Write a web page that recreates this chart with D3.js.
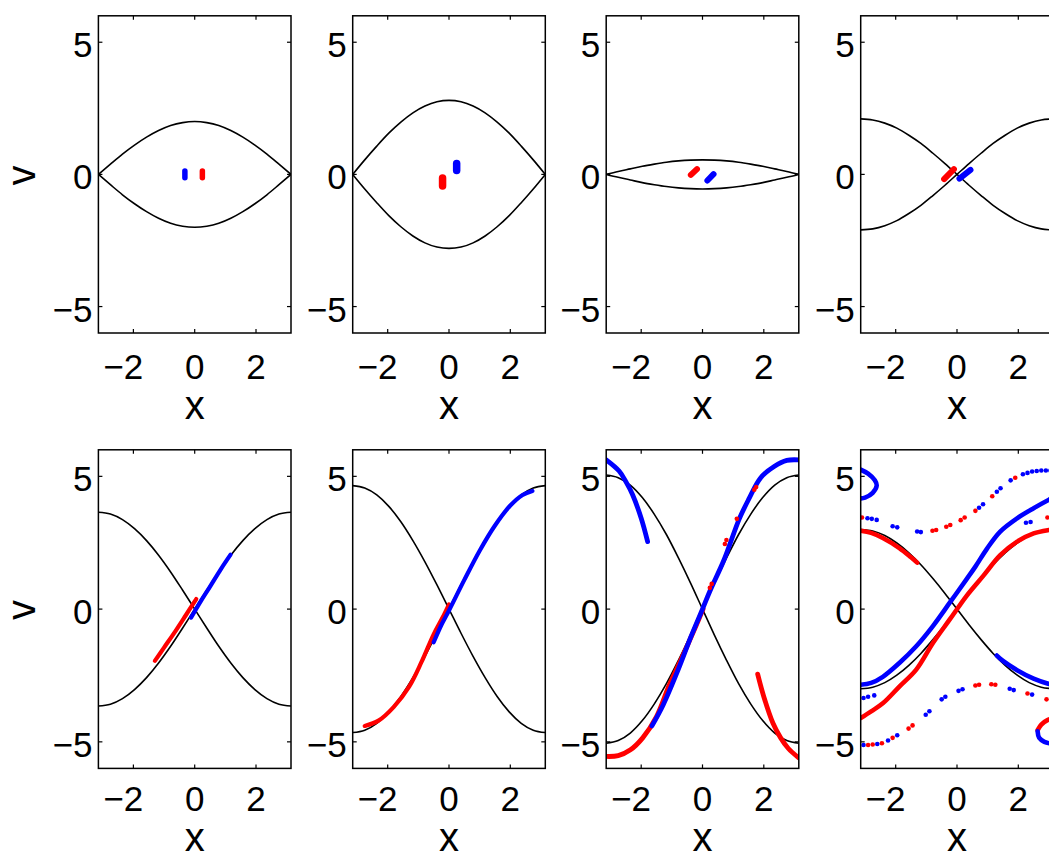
<!DOCTYPE html>
<html>
<head>
<meta charset="utf-8">
<script src="https://cdn.jsdelivr.net/npm/d3@7"></script>
<style>
  html, body { margin: 0; padding: 0; background: #fff; overflow: hidden; }
  svg { display: block; }
  text { font-family: "Liberation Sans", Arial, Helvetica, sans-serif; fill: #000; }
</style>
</head>
<body>
<svg id="fig" width="1049" height="859"></svg>
<script>
// ---- axis ticks ----
const xTicks = [-2, 0, 2];
const vTicks = [-5, 0, 5];

// ---- separatrix samples (x positions shared by all panels) ----
const xGrid = [-3.1416, -2.7489, -2.3562, -1.9635, -1.5708, -1.1781, -0.7854, -0.3927, 0,
               0.3927, 0.7854, 1.1781, 1.5708, 1.9635, 2.3562, 2.7489, 3.1416];

// upper branch (panels 1-3) or rising branch (panels 4-8)
const sepA = [
  [0, 0.39, 0.77, 1.11, 1.41, 1.66, 1.85, 1.96, 2.00, 1.96, 1.85, 1.66, 1.41, 1.11, 0.77, 0.39, 0],
  [0, 0.55, 1.07, 1.56, 1.98, 2.33, 2.59, 2.75, 2.80, 2.75, 2.59, 2.33, 1.98, 1.56, 1.07, 0.55, 0],
  [0, 0.11, 0.21, 0.31, 0.39, 0.46, 0.51, 0.54, 0.55, 0.54, 0.51, 0.46, 0.39, 0.31, 0.21, 0.11, 0],
  [-2.10, -2.06, -1.94, -1.75, -1.48, -1.17, -0.80, -0.41, 0, 0.41, 0.80, 1.17, 1.48, 1.75, 1.94, 2.06, 2.10],
  [-3.65, -3.58, -3.37, -3.03, -2.58, -2.03, -1.40, -0.71, 0, 0.71, 1.40, 2.03, 2.58, 3.03, 3.37, 3.58, 3.65],
  [-4.65, -4.56, -4.30, -3.87, -3.29, -2.58, -1.78, -0.91, 0, 0.91, 1.78, 2.58, 3.29, 3.87, 4.30, 4.56, 4.65],
  [-5.05, -4.95, -4.67, -4.20, -3.57, -2.81, -1.93, -0.99, 0, 0.99, 1.93, 2.81, 3.57, 4.20, 4.67, 4.95, 5.05],
  [-3.00, -2.94, -2.77, -2.49, -2.12, -1.67, -1.15, -0.59, 0, 0.59, 1.15, 1.67, 2.12, 2.49, 2.77, 2.94, 3.00]
];
// lower branch (panels 1-3) or falling branch (panels 4-8)
const sepB = [
  [0, -0.39, -0.77, -1.11, -1.41, -1.66, -1.85, -1.96, -2.00, -1.96, -1.85, -1.66, -1.41, -1.11, -0.77, -0.39, 0],
  [0, -0.55, -1.07, -1.56, -1.98, -2.33, -2.59, -2.75, -2.80, -2.75, -2.59, -2.33, -1.98, -1.56, -1.07, -0.55, 0],
  [0, -0.11, -0.21, -0.31, -0.39, -0.46, -0.51, -0.54, -0.55, -0.54, -0.51, -0.46, -0.39, -0.31, -0.21, -0.11, 0],
  [2.10, 2.06, 1.94, 1.75, 1.48, 1.17, 0.80, 0.41, 0, -0.41, -0.80, -1.17, -1.48, -1.75, -1.94, -2.06, -2.10],
  [3.65, 3.58, 3.37, 3.03, 2.58, 2.03, 1.40, 0.71, 0, -0.71, -1.40, -2.03, -2.58, -3.03, -3.37, -3.58, -3.65],
  [4.65, 4.56, 4.30, 3.87, 3.29, 2.58, 1.78, 0.91, 0, -0.91, -1.78, -2.58, -3.29, -3.87, -4.30, -4.56, -4.65],
  [5.05, 4.95, 4.67, 4.20, 3.57, 2.81, 1.93, 0.99, 0, -0.99, -1.93, -2.81, -3.57, -4.20, -4.67, -4.95, -5.05],
  [3.00, 2.94, 2.77, 2.49, 2.12, 1.67, 1.15, 0.59, 0, -0.59, -1.15, -1.67, -2.12, -2.49, -2.77, -2.94, -3.00]
];

// ---- particle ensembles: dense strands [x, v] per panel ----
const redStrands = [
  [[[0.25, -0.13], [0.25, 0.13]]],
  [[[-0.21, -0.44], [-0.21, -0.14]]],
  [[[-0.38, -0.02], [-0.18, 0.20]]],
  [[[-0.42, -0.18], [-0.10, 0.20]]],
  [[[-1.30, -1.95], [-1.00, -1.45], [-0.60, -0.78], [-0.30, -0.25], [0.05, 0.38]]],
  [[[-2.75, -4.40], [-2.30, -4.20], [-1.80, -3.68], [-1.30, -2.92], [-0.90, -2.00], [-0.50, -0.95], [-0.20, -0.30], [0.00, 0.18]]],
  [
    [[-3.14, -5.55], [-2.75, -5.52], [-2.35, -5.30], [-1.95, -4.85], [-1.50, -4.05], [-1.08, -2.85], [-0.64, -1.75], [-0.20, -0.60], [0.02, 0.00]],
    [[1.80, -2.45], [2.00, -3.30], [2.30, -4.30], [2.55, -4.85], [2.80, -5.25], [3.14, -5.60]]
  ],
  [
    [[-3.14, -4.10], [-2.80, -3.85], [-2.42, -3.55], [-1.88, -2.92], [-1.33, -2.28], [-0.78, -1.27], [-0.23, -0.38], [0.32, 0.51], [0.87, 1.27], [1.41, 2.03], [1.96, 2.54], [2.50, 2.85], [3.00, 2.98], [3.14, 3.00]],
    [[-3.14, 2.95], [-2.80, 2.87], [-2.42, 2.68], [-1.88, 2.30], [-1.50, 1.95], [-1.30, 1.75]],
    [[3.14, -4.12], [2.95, -4.18], [2.75, -4.35], [2.63, -4.56]]
  ]
];

const blueStrands = [
  [[[-0.32, -0.13], [-0.32, 0.13]]],
  [[[0.25, 0.15], [0.25, 0.41]]],
  [[[0.16, -0.23], [0.36, 0.01]]],
  [[[0.08, -0.16], [0.44, 0.17]]],
  [[[-0.12, -0.32], [0.20, 0.30], [0.50, 0.85], [0.85, 1.50], [1.17, 2.05]]],
  [[[-0.50, -1.25], [-0.25, -0.60], [0.00, -0.05], [0.50, 1.10], [1.00, 2.20], [1.50, 3.15], [2.00, 3.90], [2.40, 4.30], [2.72, 4.45]]],
  [
    [[3.14, 5.62], [2.75, 5.60], [2.35, 5.38], [1.90, 4.95], [1.50, 4.12], [1.20, 3.40], [0.70, 1.85], [0.25, 0.70], [0.00, 0.00], [-0.38, -1.05], [-0.80, -2.30], [-1.28, -3.60], [-1.65, -4.40]],
    [[-3.14, 5.62], [-2.72, 5.20], [-2.50, 4.80], [-2.28, 4.31], [-2.00, 3.42], [-1.79, 2.54]]
  ],
  [
    [[-3.14, -2.85], [-2.80, -2.78], [-2.42, -2.55], [-1.88, -2.03], [-1.33, -1.40], [-0.78, -0.63], [-0.23, 0.25], [0.32, 1.14], [0.60, 1.60], [0.98, 2.28], [1.41, 2.92], [1.96, 3.42], [2.50, 3.80], [3.00, 4.12], [3.14, 4.20]],
    [[1.30, -1.75], [1.50, -1.95], [1.96, -2.30], [2.50, -2.62], [3.00, -2.82], [3.14, -2.85]],
    [[-3.14, 5.25], [-2.90, 5.10], [-2.68, 4.85], [-2.62, 4.65], [-2.75, 4.38], [-3.00, 4.20], [-3.14, 4.17]],
    [[2.63, -4.60], [2.68, -4.85], [2.85, -5.00], [3.14, -5.08]]
  ]
];

// ---- sparse particles [x, v] per panel ----
const redDots = [
  [], [], [], [], [], [],
  [[0.24, 0.80], [0.30, 0.95], [0.73, 2.45], [0.78, 2.60], [1.12, 3.40], [1.69, 4.50], [1.75, 4.60]],
  [
    [-3.10, 3.45], [-0.80, 2.95], [-0.68, 2.98], [-0.35, 3.10], [-0.22, 3.17], [0.12, 3.35], [0.25, 3.45],
    [0.60, 3.70], [1.15, 4.25], [1.90, 4.95],
    [3.10, -3.45], [2.92, -3.40], [2.30, -3.18], [1.25, -2.85], [1.12, -2.83], [0.72, -2.85], [0.60, -2.88],
    [-1.45, -4.38], [-1.58, -4.50], [-2.10, -4.85], [-2.45, -5.05], [-2.75, -5.10], [-2.90, -5.12],
    [2.95, 3.45], [3.08, 3.50]
  ]
];
const blueDots = [
  [], [], [], [], [], [], [],
  [
    [-2.92, 3.42], [-2.78, 3.40], [-2.62, 3.36], [-2.10, 3.12], [-1.95, 3.08], [-1.30, 2.92], [-1.18, 2.90],
    [0.72, 3.82], [0.85, 3.95], [1.30, 4.42], [1.42, 4.55], [1.75, 4.85], [2.15, 5.08], [2.30, 5.13],
    [2.45, 5.18], [2.60, 5.20], [2.75, 5.22], [2.90, 5.22], [3.05, 5.22],
    [2.45, -3.22], [1.85, -3.05], [1.72, -3.00], [0.18, -3.02], [0.05, -3.08], [-0.38, -3.30], [-0.50, -3.40],
    [-0.90, -3.85], [-1.02, -3.98], [-1.95, -4.75], [-2.25, -4.95], [-2.60, -5.08], [-3.05, -5.12],
    [2.25, 3.25], [2.40, 3.28], [-3.05, -3.35], [-2.90, -3.30], [-2.70, -3.25]
  ]
];

// ---- layout ----
const colLeft = [98.4, 352.7, 606.2, 860.7];
const panelW = 192.6;
const rowTop = [15.8, 449.8];
const panelH = [317.2, 318.6];
const tickBase = [46, 43];
const labelBase = [86, 83];
const strandWidth = [5.5, 7.5, 6, 6, 4.2, 4.2, 4.8, 4.6];
const dotR = 2.3;
const tickFont = 35, labelFont = 40;

const svg = d3.select("#fig");
const RED = "#ff0000", BLUE = "#0000ff";

for (let p = 0; p < 8; p++) {
  const r = Math.floor(p / 4), c = p % 4;
  const x0 = colLeft[c], y0 = rowTop[r], w = panelW, h = panelH[r];
  const xs = d3.scaleLinear().domain([-Math.PI, Math.PI]).range([x0, x0 + w]);
  const vs = d3.scaleLinear().domain([-6, 6]).range([y0 + h, y0]);
  const g = svg.append("g");

  const clipId = "clip" + p;
  svg.append("clipPath").attr("id", clipId)
    .append("rect").attr("x", x0).attr("y", y0).attr("width", w).attr("height", h);
  const plot = g.append("g").attr("clip-path", `url(#${clipId})`);

  // separatrices
  const sepLine = d3.line().x(d => xs(d[0])).y(d => vs(d[1])).curve(d3.curveMonotoneX);
  [sepA[p], sepB[p]].forEach(arr => {
    plot.append("path")
      .attr("d", sepLine(arr.map((v, i) => [xGrid[i], v])))
      .attr("fill", "none").attr("stroke", "#000").attr("stroke-width", 1.6);
  });

  // particle strands
  const strandLine = d3.line().x(d => xs(d[0])).y(d => vs(d[1])).curve(d3.curveCatmullRom);
  const drawStrands = (list, color) => list.forEach(s => {
    plot.append("path").attr("d", strandLine(s))
      .attr("fill", "none").attr("stroke", color)
      .attr("stroke-width", strandWidth[p])
      .attr("stroke-linecap", "round").attr("stroke-linejoin", "round");
  });
  drawStrands(redStrands[p], RED);
  drawStrands(blueStrands[p], BLUE);

  const drawDots = (list, color) => plot.append("g").selectAll("circle").data(list).join("circle")
    .attr("cx", d => xs(d[0])).attr("cy", d => vs(d[1])).attr("r", dotR).attr("fill", color);
  drawDots(redDots[p], RED);
  drawDots(blueDots[p], BLUE);

  // frame
  g.append("rect").attr("x", x0).attr("y", y0).attr("width", w).attr("height", h)
    .attr("fill", "none").attr("stroke", "#000").attr("stroke-width", 1.5);

  // inward ticks on all four sides
  const tl = 4;
  xTicks.forEach(t => {
    g.append("line").attr("x1", xs(t)).attr("x2", xs(t)).attr("y1", y0 + h).attr("y2", y0 + h - tl)
      .attr("stroke", "#000").attr("stroke-width", 1.2);
    g.append("line").attr("x1", xs(t)).attr("x2", xs(t)).attr("y1", y0).attr("y2", y0 + tl)
      .attr("stroke", "#000").attr("stroke-width", 1.2);
  });
  vTicks.forEach(t => {
    g.append("line").attr("x1", x0).attr("x2", x0 + tl).attr("y1", vs(t)).attr("y2", vs(t))
      .attr("stroke", "#000").attr("stroke-width", 1.2);
    g.append("line").attr("x1", x0 + w).attr("x2", x0 + w - tl).attr("y1", vs(t)).attr("y2", vs(t))
      .attr("stroke", "#000").attr("stroke-width", 1.2);
  });

  const fmt = d3.format("d");
  // x tick labels: digits centred on the tick, minus sign hanging left
  xTicks.forEach(t => {
    g.append("text").attr("x", xs(t) + 0.278 * tickFont).attr("y", y0 + h + tickBase[r])
      .attr("text-anchor", "end").attr("font-size", tickFont).text(fmt(t));
  });
  // v tick labels
  vTicks.forEach(t => {
    g.append("text").attr("x", x0 - 6).attr("y", vs(t) + 15)
      .attr("text-anchor", "end").attr("font-size", tickFont).text(fmt(t));
  });
  // axis labels
  g.append("text").attr("x", xs(0)).attr("y", y0 + h + labelBase[r])
    .attr("text-anchor", "middle").attr("font-size", labelFont).text("x");
  if (c === 0) {
    g.append("text").attr("transform", `translate(35,${y0 + h / 2 + 1}) rotate(-90)`)
      .attr("text-anchor", "middle").attr("font-size", labelFont).text("v");
  }
}
</script>
</body>
</html>
